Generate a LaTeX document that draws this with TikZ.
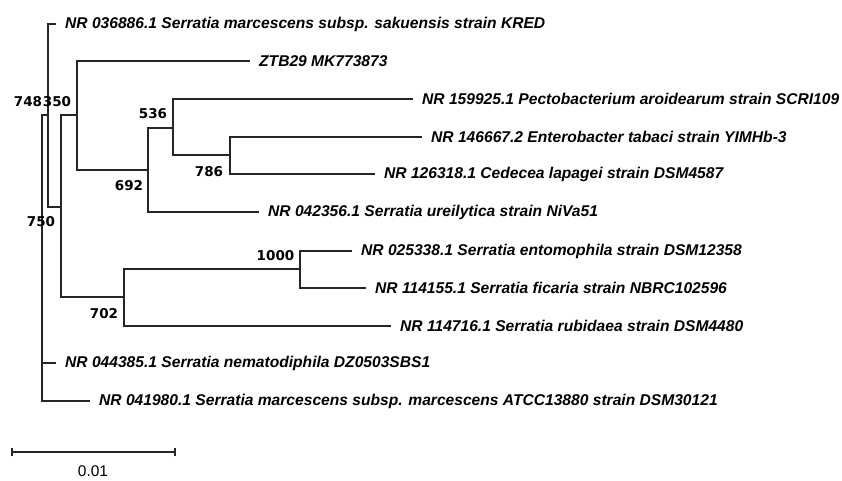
\documentclass[tikz,border=0pt]{standalone}
\usepackage{fontspec}
\setmainfont{Liberation Sans}
\newfontfamily\bsfont{DejaVu Sans}
\begin{document}
\begin{tikzpicture}[x=1pt,y=-1pt,
  leaf/.style={anchor=west, inner xsep=9pt, inner ysep=0pt, font=\fontsize{15.6}{17}\selectfont\bfseries\itshape},
  boot/.style={inner sep=0pt, font=\bsfont\bfseries\fontsize{13.5}{15}\selectfont},
  br/.style={line width=1.3pt, draw=black!85}]
\useasboundingbox (0,0) rectangle (842,481);
% internal nodes
\coordinate (R) at (42,258);
\coordinate (A) at (48,115);
\coordinate (B) at (61,207);
\coordinate (C) at (77,115);
\coordinate (D) at (148,170);
\coordinate (E) at (173,128);
\coordinate (F) at (230,155);
\coordinate (G) at (124,297);
\coordinate (H) at (300,269);
% leaves
\node[leaf] (l1) at (56,24) {NR 036886.1 Serratia marcescens subsp. sakuensis strain KRED};
\node[leaf] (l2) at (250,61) {ZTB29 MK773873};
\node[leaf] (l3) at (413,99) {NR 159925.1 Pectobacterium aroidearum strain SCRI109};
\node[leaf] (l4) at (422,137) {NR 146667.2 Enterobacter tabaci strain YIMHb-3};
\node[leaf] (l5) at (375,174) {NR 126318.1 Cedecea lapagei strain DSM4587};
\node[leaf] (l6) at (259,212) {NR 042356.1 Serratia ureilytica strain NiVa51};
\node[leaf] (l7) at (352,251) {NR 025338.1 Serratia entomophila strain DSM12358};
\node[leaf] (l8) at (366,288) {NR 114155.1 Serratia ficaria strain NBRC102596};
\node[leaf] (l9) at (391,326) {NR 114716.1 Serratia rubidaea strain DSM4480};
\node[leaf] (l10) at (56,363) {NR 044385.1 Serratia nematodiphila DZ0503SBS1};
\node[leaf] (l11) at (90,401) {NR 041980.1 Serratia marcescens subsp. marcescens ATCC13880 strain DSM30121};
% branches
\draw[br] (R) |- (A);
\draw[br] (R) |- (l10.west);
\draw[br] (R) |- (l11.west);
\draw[br] (A) |- (l1.west);
\draw[br] (A) |- (B);
\draw[br] (B) |- (C);
\draw[br] (B) |- (G);
\draw[br] (C) |- (l2.west);
\draw[br] (C) |- (D);
\draw[br] (D) |- (E);
\draw[br] (D) |- (l6.west);
\draw[br] (E) |- (l3.west);
\draw[br] (E) |- (F);
\draw[br] (F) |- (l4.west);
\draw[br] (F) |- (l5.west);
\draw[br] (G) |- (H);
\draw[br] (G) |- (l9.west);
\draw[br] (H) |- (l7.west);
\draw[br] (H) |- (l8.west);
% bootstrap values
\node[boot] (bA) at (28,102) {748};
\node[boot] (bC) at (57,102) {350};
\node[boot] (bB) at (41,222) {750};
\node[boot] (bD) at (129,186) {692};
\node[boot] (bE) at (153,114) {536};
\node[boot] (bF) at (209,172) {786};
\node[boot] (bH) at (275.5,256) {1000};
\node[boot] (bG) at (104,314) {702};
% scale bar
\coordinate (s1) at (12,452);
\coordinate (s2) at (175,452);
\draw[line width=1.6pt, draw=black!85] (s1) -- (s2);
\draw[line width=1.3pt, draw=black!85] ([yshift=-4pt]s1) -- ([yshift=4pt]s1);
\draw[line width=1.3pt, draw=black!85] ([yshift=-4pt]s2) -- ([yshift=4pt]s2);
\node[inner sep=0pt, font=\fontsize{15.5}{17}\selectfont] (sl) at (93,471) {0.01};
\end{tikzpicture}
\end{document}
